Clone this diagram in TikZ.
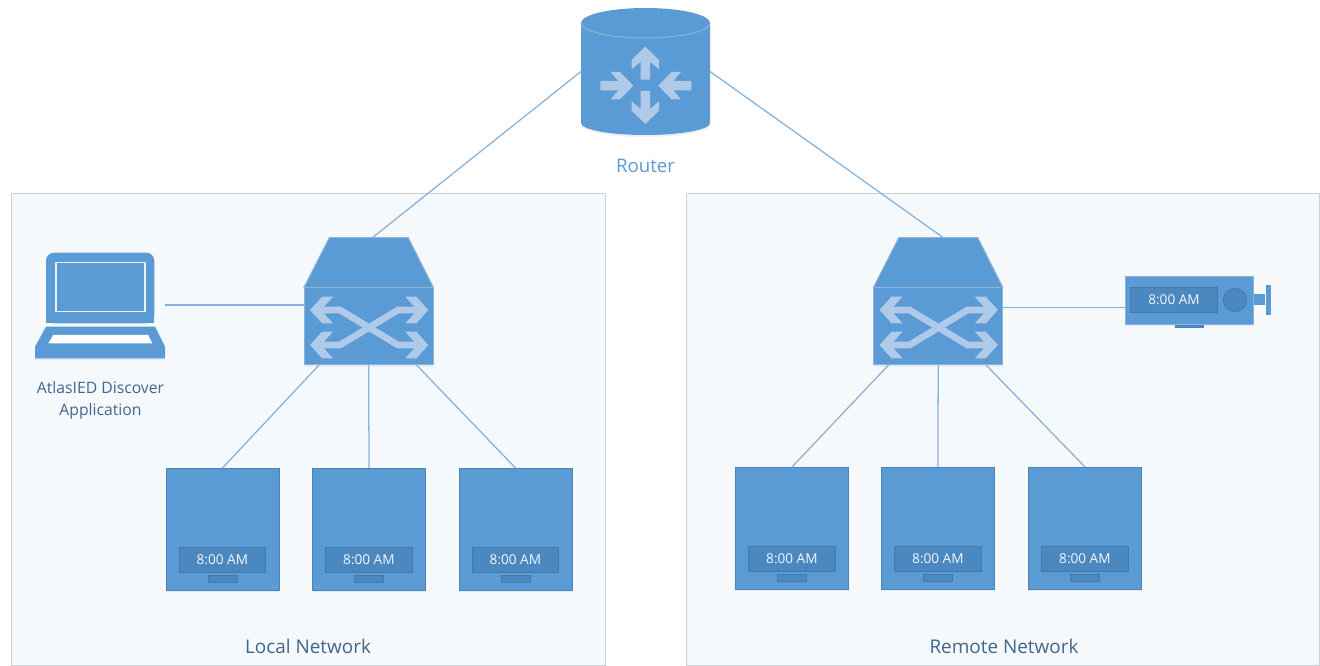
\documentclass[tikz,border=0pt]{standalone}
\usepackage{fontspec}
\setmainfont{Open Sans}
\usetikzlibrary{calc}
\definecolor{iconblue}{HTML}{5B9BD5}
\definecolor{iconedge}{HTML}{8FB3D6}
\definecolor{glyph}{HTML}{AECAE8}
\definecolor{dispfill}{HTML}{4C88C0}
\definecolor{dispedge}{HTML}{4378A9}
\definecolor{linkblue}{HTML}{86B2DE}
\definecolor{panelfill}{HTML}{F6F9FB}
\definecolor{paneledge}{HTML}{CDD1D4}
\definecolor{labeldark}{HTML}{41668C}
\tikzset{
  panel/.style={draw=paneledge,fill=panelfill,line width=0.75pt},
  icon/.style={fill=iconblue},
  clockface/.style={draw=iconblue!85!black,fill=iconblue,line width=0.6pt,minimum width=84.75pt,minimum height=91.5pt,inner sep=0pt,outer sep=0pt},
  disp/.style={draw=dispedge,fill=dispfill,line width=0.5pt},
  timetext/.style={text=white!92!iconblue,font=\fontsize{10.2}{12}\selectfont,inner sep=0pt},
  link/.style={draw=linkblue,line width=0.95pt},
  ghost/.style={inner sep=0pt,outer sep=0pt,draw=none,fill=none},
  caption/.style={text=labeldark,font=\fontsize{14.2}{16}\selectfont,inner sep=0pt},
  smallcap/.style={text=labeldark,font=\fontsize{11.8}{16.5}\selectfont,inner sep=0pt,align=center},
  softshadow/.style={fill=iconblue,opacity=0.13}
}
% tip at origin, pointing along +x
\newcommand\routerarrow[3]{\fill[glyph,shift={(#1,#2)},rotate=#3] (0,0)--(-13.3,-13.7)--(-22.7,-13.7)--(-15,-4.7)--(-33,-4.7)--(-33,4.7)--(-15,4.7)--(-22.7,13.7)--(-13.3,13.7)--cycle;}
\newcommand\switchhead[3]{\fill[glyph,shift={(#1,#2)},rotate=#3] (0,0)--(-12,-13.3)--(-23,-13.3)--(-14,-3.3)--(-14,3.3)--(-23,13.3)--(-12,13.3)--cycle;}
\newcommand\clockunit[3]{% name, left x, top y
  \fill[softshadow] (#2,#3+2) rectangle ++(113,122);
  \node[clockface,anchor=north west] (#1) at (#2,#3) {};
  \draw[disp] (#2+13,#3+79.5) rectangle (#2+99.7,#3+104.7);
  \draw[disp] (#2+42.3,#3+107.7) rectangle (#2+71,#3+114);
  \node[timetext] (#1time) at (#2+56.4,#3+91.7) {8:00 AM};
}
\newcommand\switchunit[2]{% name, x shift
  \begin{scope}[shift={(#2,0)}]
    \fill[softshadow] (304,300)--(433,300)--(433,367.5)--(304,367.5)--cycle;
    \node[ghost,minimum width=97pt,minimum height=95.25pt,anchor=north west] (#1) at (304,238) {};
    \draw[icon,draw=iconedge,line width=0.75pt] (304,287.3)--(329.3,237.7)--(408.3,237.7)--(433.3,287.3)--cycle;
    \draw[icon,draw=iconedge,line width=0.75pt] (304,287.3) rectangle (433.3,365);
    \draw[glyph,line width=5pt] (318,345)--(340,345)--(398,310)--(420,310);
    \draw[glyph,line width=5pt] (318,310)--(340,310)--(398,345)--(420,345);
    \switchhead{310}{310}{180}
    \switchhead{310}{345}{180}
    \switchhead{428.3}{310}{0}
    \switchhead{428.3}{345}{0}
  \end{scope}
}
\begin{document}
\begin{tikzpicture}[x=0.75pt,y=-0.75pt]
\useasboundingbox (0,0) rectangle (1320,666);
\fill[white] (0,0) rectangle (1320,666);
% panels
\draw[panel] (11,194) rectangle (605,665);
\draw[panel] (686,194) rectangle (1319.5,665);
% router
\node[ghost,minimum width=96.75pt,minimum height=95.25pt] (router) at (645.5,71.5) {};
\fill[softshadow] (581,25) -- (581,125) arc[start angle=180,end angle=0,x radius=64.5,y radius=12] -- (710,25) -- cycle;
\fill[icon] (581,23) -- (581,123) arc[start angle=180,end angle=0,x radius=64.5,y radius=12] -- (710,23) arc[start angle=0,end angle=-180,x radius=64.5,y radius=15] -- cycle;
\draw[iconedge,line width=0.75pt] (581,23) arc[start angle=180,end angle=0,x radius=64.5,y radius=15];
\routerarrow{645.3}{46.7}{90}
\routerarrow{645.3}{124}{-90}
\routerarrow{633.3}{85.7}{0}
\routerarrow{658.3}{85.7}{180}
\node[text=iconblue,font=\fontsize{14}{16}\selectfont,inner sep=0pt] (routerlabel) at (645.5,166) {Router};
% switches
\switchunit{swa}{0}
\switchunit{swb}{569.5}
% laptop
\node[ghost,minimum width=97.5pt,minimum height=79pt,anchor=north west] (laptop) at (35,252.7) {};
\fill[softshadow] (35,349) -- (165,349) -- (165,360.5) -- (35,360.5) -- cycle;
\fill[icon,rounded corners=6pt] (46,323.3) -- (46,252.7) -- (154.3,252.7) -- (154.3,323.3) -- cycle;
\fill[iconblue] (46,315) rectangle (154.3,323.3);
\fill[icon] (46,326.7) -- (155,326.7) -- (165,346.7) -- (165,358.3) -- (35,358.3) -- (35,346.7) -- cycle;
\draw[white!85!iconblue,line width=0.8pt] (56,262.7) rectangle (145,311.7);
\fill[white] (53.3,335) -- (148.3,335) -- (152.3,343.3) -- (48.3,343.3) -- cycle;
\node[smallcap] (laptoplabel) at (100.5,400) {AtlasIED Discover\\Application};
% projector
\node[ghost,minimum width=108pt,minimum height=36.5pt,anchor=north west] (proj) at (1125.7,276) {};
\fill[softshadow] (1125.7,278) rectangle (1253.3,326.5);
\fill[icon,draw=iconedge,line width=0.6pt] (1125.7,276) rectangle (1253.3,324.3);
\draw[disp] (1130.7,287.7) rectangle (1217.3,312.7);
\node[timetext] (projtime) at (1174,299.5) {8:00 AM};
\draw[disp] (1235,300) circle[radius=11.7];
\fill[icon] (1254,294) rectangle (1265,305);
\fill[icon] (1265.7,285) rectangle (1271.3,315);
\fill[dispfill] (1175,325) rectangle (1204,328);
% clocks
\clockunit{ca}{166}{468}
\clockunit{cb}{312.5}{468}
\clockunit{cc}{459}{468}
\clockunit{cd}{735.5}{467}
\clockunit{ce}{881.5}{467}
\clockunit{cf}{1028.5}{467}
% connectors
\draw[link] (router.west) -- (swa.87);
\draw[link] (router.east) -- (swb.85.7);
\draw[link] (laptop.east |- swa.183) -- (swa.183);
\draw[link] (swa.232.5) -- (ca.north);
\draw[link] (swa.south) -- (cb.north);
\draw[link] (swa.307.5) -- (cc.north);
\draw[link] (swb.232.2) -- (cd.north);
\draw[link] (swb.south) -- (ce.north);
\draw[link] (swb.307.8) -- (cf.north);
\draw[link] (swb.-5.7) -- (proj.west |- swb.-5.7);
% panel captions
\node[caption] (locallabel) at (308,646) {Local Network};
\node[caption] (remotelabel) at (1004,646) {Remote Network};
\end{tikzpicture}
\end{document}
